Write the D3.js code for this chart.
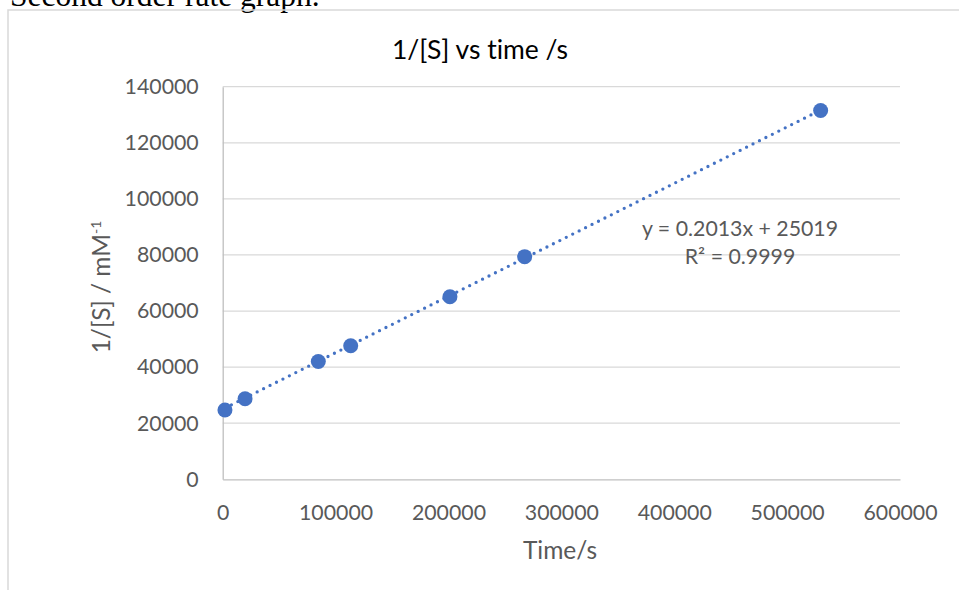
<!DOCTYPE html>
<html>
<head>
<meta charset="utf-8">
<script src="https://cdnjs.cloudflare.com/ajax/libs/d3/7.8.5/d3.min.js"></script>
<style>
  html, body { margin: 0; padding: 0; background: #fff; overflow: hidden; }
  #root { width: 959px; height: 590px; }
  svg text { font-variant-ligatures: none; font-feature-settings: "liga" 0; }
</style>
</head>
<body>
<div id="root"></div>
<script>
// Data
const times = [2000, 19800, 84700, 113400, 201300, 267500, 529700];
const invS = [24700, 28700, 42000, 47600, 65100, 79400, 131500];
const xTicks = [0, 100000, 200000, 300000, 400000, 500000, 600000];
const yTicks = [0, 20000, 40000, 60000, 80000, 100000, 120000, 140000];
const slope = 0.2013;
const intercept = 25019;
const eqLabel = 'y = 0.2013x + 25019';
const r2Label = 'R² = 0.9999';

const root = document.getElementById('root');
const width = 959;
const height = 590;
const blue = '#4472C4';
const grey = '#595959';
const font = 'Lato, "Open Sans", sans-serif';
const tickSize = '21.3px';
const titleSize = '24.5px';

const svg = d3.select(root)
    .append('svg')
    .attr('width', width)
    .attr('height', height);

// heading of the document, cut off at the top
svg.append('text')
    .attr('x', 10)
    .attr('y', 6)
    .attr('font-family', '"Liberation Serif", "Times New Roman", serif')
    .attr('font-size', '31.5px')
    .attr('fill', '#000')
    .text('Second order rate graph.');

// chart frame (left + top edge visible)
svg.append('path')
    .attr('d', `M8,${height} L8,10 L${width},10`)
    .attr('fill', 'none')
    .attr('stroke', '#D9D9D9')
    .attr('stroke-width', 1.5);

// Scales
const x = d3.scaleLinear().domain([0, 600000]).range([222.7, 900]);
const y = d3.scaleLinear().domain([0, 140000]).range([479.3, 86.7]);

// Gridlines
svg.append('g')
    .selectAll('line')
    .data(yTicks.filter(d => d > 0))
    .enter()
    .append('line')
    .attr('x1', x(0))
    .attr('x2', x(600000))
    .attr('y1', d => y(d))
    .attr('y2', d => y(d))
    .attr('stroke', '#D9D9D9')
    .attr('stroke-width', 1.3);

// Axes
const xAxis = d3.axisBottom(x).tickValues(xTicks).tickSize(0).tickPadding(26).tickFormat(d3.format('d'));
const yAxis = d3.axisLeft(y).tickValues(yTicks).tickSize(0).tickPadding(24).tickFormat(d3.format('d'));

const gx = svg.append('g')
    .attr('transform', `translate(0,${y(0)})`)
    .call(xAxis);
const gy = svg.append('g')
    .attr('transform', `translate(${x(0)},0)`)
    .call(yAxis);

[gx, gy].forEach(g => {
    g.select('.domain').attr('stroke', '#BFBFBF').attr('stroke-width', 1.3);
    g.selectAll('text')
        .attr('fill', grey)
        .attr('font-family', font)
        .attr('font-size', tickSize);
});

// Trendline
const tx = d3.extent(times);
svg.append('line')
    .attr('x1', x(tx[0]))
    .attr('y1', y(slope * tx[0] + intercept))
    .attr('x2', x(tx[1]))
    .attr('y2', y(slope * tx[1] + intercept))
    .attr('stroke', blue)
    .attr('stroke-width', 3.3)
    .attr('stroke-linecap', 'round')
    .attr('stroke-dasharray', '0 7.2');

// Points
svg.selectAll('circle')
    .data(times)
    .enter()
    .append('circle')
    .attr('cx', d => x(d))
    .attr('cy', (d, i) => y(invS[i]))
    .attr('r', 7.5)
    .attr('fill', blue);

// Title
svg.append('text')
    .attr('x', 480)
    .attr('y', 59)
    .attr('text-anchor', 'middle')
    .attr('font-family', font)
    .attr('font-size', '26.5px')
    .attr('fill', '#000')
    .text('1/[S] vs time /s');

// Axis titles
svg.append('text')
    .attr('x', 560)
    .attr('y', 559)
    .attr('text-anchor', 'middle')
    .attr('font-family', font)
    .attr('font-size', titleSize)
    .attr('fill', grey)
    .text('Time/s');

const yTitle = svg.append('text')
    .attr('transform', `translate(110, 287)rotate(-90)`)
    .attr('text-anchor', 'middle')
    .attr('font-family', font)
    .attr('font-size', titleSize)
    .attr('fill', grey);
yTitle.append('tspan').text('1/[S] / mM');
yTitle.append('tspan').attr('dy', -9).attr('font-size', '14px').text('-1');

// Trendline label
svg.append('text')
    .attr('x', 740)
    .attr('y', 236)
    .attr('text-anchor', 'middle')
    .attr('font-family', font)
    .attr('font-size', tickSize)
    .attr('fill', grey)
    .text(eqLabel);
svg.append('text')
    .attr('x', 740)
    .attr('y', 264)
    .attr('text-anchor', 'middle')
    .attr('font-family', font)
    .attr('font-size', tickSize)
    .attr('fill', grey)
    .text(r2Label);
</script>
</body>
</html>
